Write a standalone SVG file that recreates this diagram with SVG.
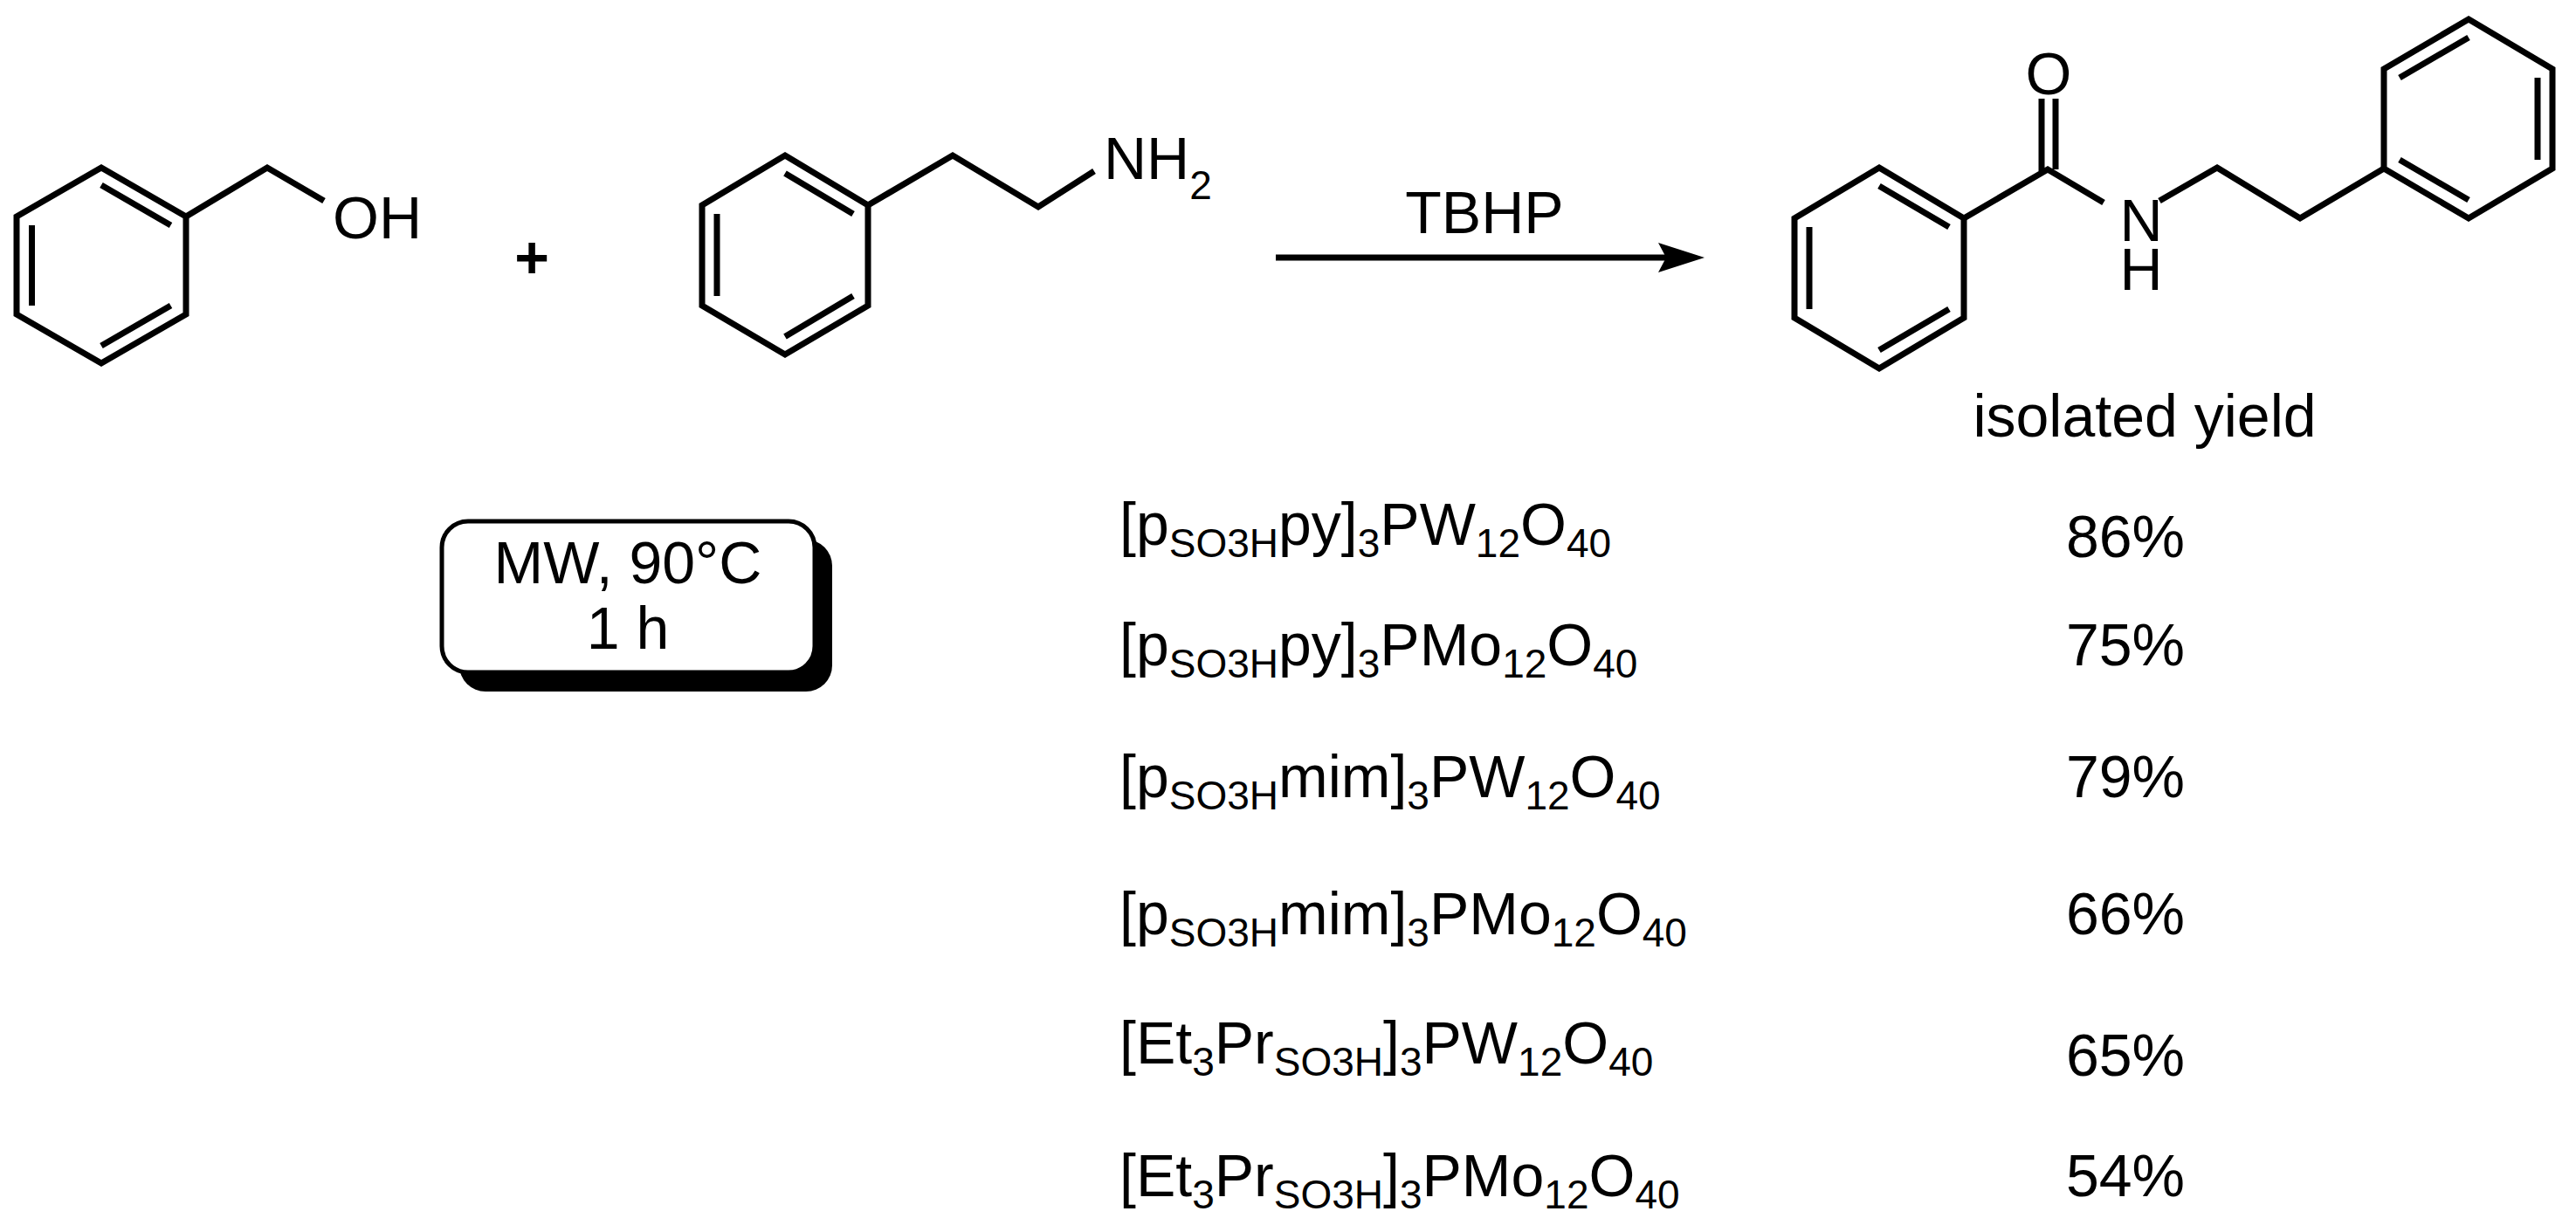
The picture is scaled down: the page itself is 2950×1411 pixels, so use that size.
<svg xmlns="http://www.w3.org/2000/svg" width="2950" height="1411" viewBox="0 0 2950 1411">
<style>
.b{stroke:#000;stroke-width:7;fill:none;stroke-linejoin:miter;stroke-linecap:butt}
text{font-family:"Liberation Sans",Arial,sans-serif;font-size:68px;fill:#000}
.s{font-size:46px}
</style>
<rect width="2950" height="1411" fill="#fff"/>
<g id="benzyl_alcohol">
<polygon class="b" points="116,192 213,248 213,360 116,416 19,360 19,248"/>
<path class="b" d="M36.5,258V350M116,212L195.5,258M195.5,350L116,396M213,248L306,192L371,230"/>
<text x="381" y="273">OH</text>
</g>
<g id="plus"><text x="609" y="318" text-anchor="middle" font-weight="bold">+</text></g>
<g id="phenethylamine">
<polygon class="b" points="899,178 994,235 994,350 899,406 804,350 804,235"/>
<path class="b" d="M821,245V339M899,198.5L977,245M977,339L899,385.5M994,235L1091,178L1189,237L1253,196"/>
<text x="1264" y="205">NH<tspan class="s" dy="23">2</tspan></text>
</g>
<g id="connectors">
<line class="b" x1="1461" y1="295" x2="1930" y2="295"/>
<polygon points="1952,295 1899,278 1908,295 1899,312" fill="#000"/>
</g>
<g id="reagent"><text x="1700" y="267" text-anchor="middle">TBHP</text></g>
<g id="product">
<polygon class="b" points="2152,192 2249,250 2249,364 2152,422 2055,364 2055,250"/>
<path class="b" d="M2072,260V354M2152,213L2232,260M2232,354L2152,401M2249,250L2345,194L2409,232M2338,198V113M2354,194V113M2473,230L2539,192L2634,250L2730,193"/>
<polygon class="b" points="2827,22 2923,79 2923,193 2827,250 2730,193 2730,79"/>
<path class="b" d="M2827,43L2748,89M2906,89V183M2748,183L2827,229"/>
<text x="2346" y="108" text-anchor="middle">O</text>
<text x="2452" y="276" text-anchor="middle">N</text>
<text x="2452" y="332" text-anchor="middle">H</text>
</g>
<g id="conditions">
<rect x="526" y="618" width="427" height="174" rx="30" fill="#000"/>
<rect x="506" y="597" width="427" height="173" rx="30" fill="#fff" stroke="#000" stroke-width="5"/>
<text x="719" y="668" text-anchor="middle">MW, 90°C</text>
<text x="719" y="743" text-anchor="middle">1 h</text>
</g>
<g id="table">
<text x="2456" y="500" text-anchor="middle">isolated yield</text>
<text x="1282" y="624">[p<tspan class="s" dy="14">SO3H</tspan><tspan dy="-14">py]</tspan><tspan class="s" dy="14">3</tspan><tspan dy="-14">PW</tspan><tspan class="s" dy="14">12</tspan><tspan dy="-14">O</tspan><tspan class="s" dy="14">40</tspan></text>
<text x="1282" y="762">[p<tspan class="s" dy="14">SO3H</tspan><tspan dy="-14">py]</tspan><tspan class="s" dy="14">3</tspan><tspan dy="-14">PMo</tspan><tspan class="s" dy="14">12</tspan><tspan dy="-14">O</tspan><tspan class="s" dy="14">40</tspan></text>
<text x="1282" y="913">[p<tspan class="s" dy="14">SO3H</tspan><tspan dy="-14">mim]</tspan><tspan class="s" dy="14">3</tspan><tspan dy="-14">PW</tspan><tspan class="s" dy="14">12</tspan><tspan dy="-14">O</tspan><tspan class="s" dy="14">40</tspan></text>
<text x="1282" y="1070">[p<tspan class="s" dy="14">SO3H</tspan><tspan dy="-14">mim]</tspan><tspan class="s" dy="14">3</tspan><tspan dy="-14">PMo</tspan><tspan class="s" dy="14">12</tspan><tspan dy="-14">O</tspan><tspan class="s" dy="14">40</tspan></text>
<text x="1282" y="1218">[Et<tspan class="s" dy="14">3</tspan><tspan dy="-14">Pr</tspan><tspan class="s" dy="14">SO3H</tspan><tspan dy="-14">]</tspan><tspan class="s" dy="14">3</tspan><tspan dy="-14">PW</tspan><tspan class="s" dy="14">12</tspan><tspan dy="-14">O</tspan><tspan class="s" dy="14">40</tspan></text>
<text x="1282" y="1370">[Et<tspan class="s" dy="14">3</tspan><tspan dy="-14">Pr</tspan><tspan class="s" dy="14">SO3H</tspan><tspan dy="-14">]</tspan><tspan class="s" dy="14">3</tspan><tspan dy="-14">PMo</tspan><tspan class="s" dy="14">12</tspan><tspan dy="-14">O</tspan><tspan class="s" dy="14">40</tspan></text>
<text x="2434" y="638" text-anchor="middle">86%</text>
<text x="2434" y="762" text-anchor="middle">75%</text>
<text x="2434" y="913" text-anchor="middle">79%</text>
<text x="2434" y="1070" text-anchor="middle">66%</text>
<text x="2434" y="1232" text-anchor="middle">65%</text>
<text x="2434" y="1370" text-anchor="middle">54%</text>
</g>
</svg>
